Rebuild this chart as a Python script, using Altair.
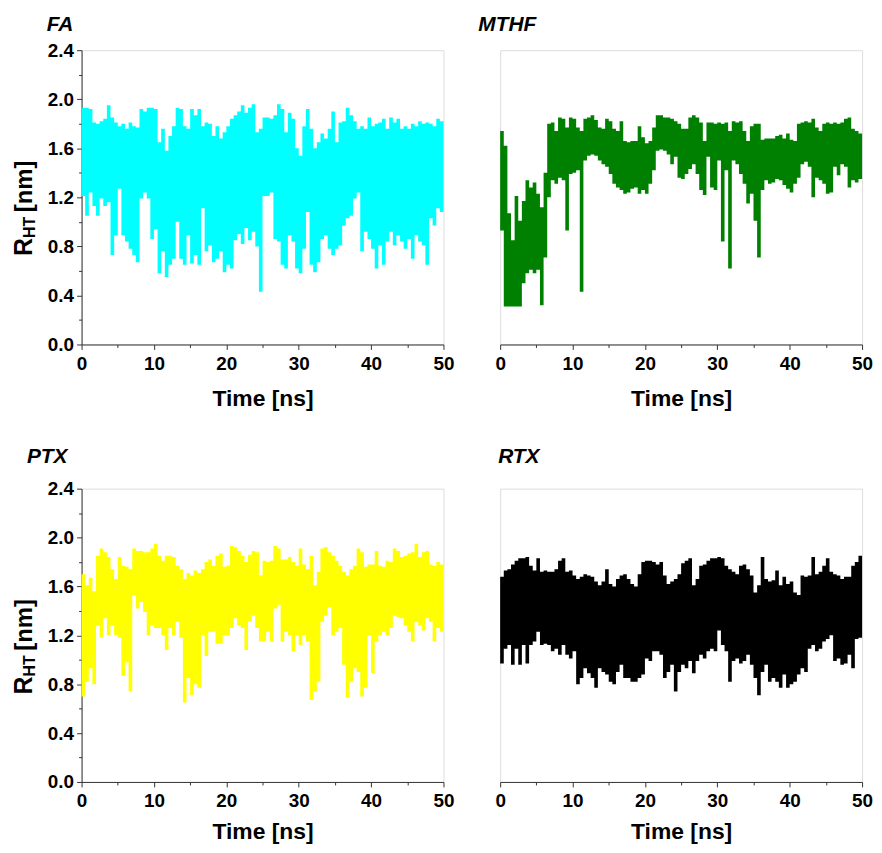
import altair as alt
import pandas as pd

FONT = "Liberation Sans"

# Upper / lower extent of R_HT (nm) in successive 0.5 ns windows (0..50 ns)
FA_HI = [1.93,1.93,1.92,1.81,1.80,1.82,1.84,1.95,1.85,1.81,
         1.78,1.80,1.76,1.81,1.78,1.77,1.92,1.90,1.93,1.93,
         1.92,1.65,1.76,1.58,1.70,1.78,1.93,1.92,1.78,1.76,
         1.92,1.87,1.92,1.78,1.81,1.80,1.70,1.78,1.68,1.73,
         1.78,1.84,1.87,1.90,1.95,1.89,1.93,1.96,1.73,1.76,
         1.85,1.85,1.84,1.87,1.96,1.92,1.73,1.89,1.84,1.60,
         1.54,1.78,1.92,1.76,1.60,1.65,1.72,1.68,1.76,1.90,
         1.65,1.81,1.82,1.93,1.87,1.82,1.76,1.78,1.76,1.85,
         1.78,1.80,1.81,1.84,1.76,1.85,1.81,1.84,1.76,1.78,
         1.76,1.80,1.78,1.82,1.80,1.81,1.80,1.78,1.84,1.82]
FA_LO = [1.21,1.05,1.24,1.13,1.05,1.19,1.13,1.16,0.73,0.89,
         1.27,0.89,0.84,0.78,0.73,0.67,1.19,1.24,1.19,0.86,
         0.94,0.58,0.76,0.55,0.65,0.70,1.00,0.70,0.65,0.89,
         0.66,0.73,0.65,1.11,0.76,0.81,0.67,0.70,0.76,0.59,
         0.65,0.62,0.85,0.90,0.82,0.95,0.85,0.92,0.80,0.43,
         1.21,1.21,1.24,0.86,0.84,0.65,0.62,0.89,0.84,0.62,
         0.58,0.78,1.08,0.65,0.59,0.67,0.86,0.89,0.78,0.73,
         0.78,0.81,0.97,1.03,1.05,1.19,1.24,0.76,0.92,0.86,
         0.78,0.62,0.81,0.65,0.84,0.92,0.81,0.89,0.84,0.78,
         0.86,0.70,0.89,0.84,0.81,0.65,1.03,0.97,1.11,1.08]

MTHF_HI = [1.74,1.62,1.07,0.85,1.21,1.01,1.17,1.34,1.28,1.32,
           1.23,1.12,1.40,1.80,1.81,1.74,1.85,1.84,1.77,1.85,
           1.84,1.77,1.74,1.84,1.85,1.87,1.83,1.77,1.76,1.84,
           1.82,1.76,1.74,1.82,1.66,1.65,1.66,1.66,1.78,1.69,
           1.64,1.66,1.77,1.87,1.87,1.85,1.85,1.84,1.82,1.80,
           1.76,1.76,1.85,1.87,1.85,1.81,1.66,1.81,1.81,1.80,
           1.81,1.80,1.81,1.74,1.82,1.81,1.82,1.74,1.66,1.78,
           1.80,1.80,1.67,1.68,1.68,1.68,1.70,1.71,1.68,1.72,
           1.67,1.66,1.80,1.81,1.82,1.81,1.84,1.77,1.74,1.80,
           1.81,1.80,1.81,1.80,1.81,1.84,1.85,1.76,1.74,1.72]
MTHF_LO = [0.93,0.31,0.31,0.31,0.31,0.31,0.50,0.58,0.61,0.58,
           0.61,0.32,0.71,1.20,1.34,1.31,1.36,1.34,0.93,1.39,
           1.40,1.42,0.43,1.50,1.54,1.55,1.54,1.50,1.47,1.45,
           1.39,1.31,1.28,1.26,1.23,1.24,1.27,1.28,1.23,1.26,
           1.23,1.31,1.42,1.58,1.59,1.58,1.55,1.47,1.53,1.36,
           1.35,1.39,1.43,1.47,1.39,1.26,1.22,1.53,1.28,1.26,
           1.50,0.84,1.42,0.62,1.50,1.47,1.39,1.31,1.15,1.23,
           1.01,0.71,1.26,1.34,1.31,1.32,1.35,1.34,1.30,1.27,
           1.24,1.31,1.36,1.47,1.49,1.45,1.20,1.36,1.34,1.31,
           1.23,1.24,1.45,1.38,1.47,1.45,1.28,1.34,1.32,1.35]

PTX_HI = [1.70,1.61,1.67,1.56,1.85,1.91,1.88,1.84,1.74,1.66,
          1.84,1.77,1.76,1.74,1.91,1.89,1.89,1.88,1.88,1.91,
          1.95,1.85,1.81,1.85,1.85,1.84,1.77,1.74,1.66,1.71,
          1.69,1.73,1.71,1.74,1.80,1.82,1.77,1.85,1.87,1.76,
          1.77,1.93,1.92,1.89,1.85,1.80,1.86,1.89,1.88,1.69,
          1.81,1.80,1.81,1.93,1.91,1.82,1.82,1.84,1.80,1.77,
          1.91,1.78,1.74,1.85,1.61,1.72,1.91,1.92,1.88,1.85,
          1.81,1.77,1.72,1.69,1.74,1.77,1.91,1.88,1.76,1.78,
          1.78,1.89,1.77,1.76,1.81,1.80,1.91,1.89,1.84,1.85,
          1.87,1.88,1.95,1.84,1.88,1.89,1.78,1.77,1.80,1.78]
PTX_LO = [0.70,0.82,0.93,0.80,1.28,1.18,1.34,1.20,1.28,1.20,
          1.18,0.87,0.98,0.74,1.53,1.42,1.47,1.39,1.20,1.28,
          1.26,1.26,1.20,1.08,1.26,1.20,1.31,1.18,0.65,0.85,
          0.71,0.80,0.77,1.20,1.03,1.23,1.23,1.13,1.13,1.20,
          1.20,1.26,1.34,1.28,1.26,1.08,1.31,1.36,1.26,1.15,
          1.15,1.23,1.15,1.42,1.45,1.15,1.23,1.20,1.07,1.20,
          1.12,1.20,1.15,0.67,0.74,0.82,1.31,1.36,1.43,1.20,
          1.23,1.26,0.96,0.69,0.82,0.93,0.90,0.70,0.77,1.20,
          0.89,1.15,1.20,1.23,1.20,1.26,1.36,1.35,1.34,1.28,
          1.23,1.15,1.31,1.28,1.24,1.34,1.31,1.15,1.26,1.23]

RTX_HI = [1.68,1.73,1.74,1.78,1.81,1.83,1.83,1.84,1.77,1.73,
          1.83,1.72,1.73,1.72,1.72,1.74,1.81,1.83,1.72,1.73,
          1.69,1.66,1.68,1.70,1.69,1.68,1.64,1.61,1.64,1.74,
          1.62,1.60,1.66,1.69,1.70,1.66,1.62,1.60,1.70,1.80,
          1.81,1.81,1.80,1.78,1.80,1.69,1.62,1.64,1.66,1.70,
          1.79,1.81,1.83,1.61,1.66,1.77,1.78,1.81,1.83,1.83,
          1.84,1.83,1.77,1.74,1.72,1.70,1.77,1.78,1.74,1.69,
          1.55,1.61,1.84,1.66,1.64,1.65,1.73,1.61,1.68,1.62,
          1.64,1.55,1.53,1.69,1.68,1.69,1.84,1.70,1.72,1.77,
          1.83,1.72,1.70,1.69,1.66,1.68,1.68,1.77,1.80,1.85]
RTX_LO = [0.97,1.09,1.12,0.96,1.09,0.96,1.12,0.97,1.12,1.15,
          1.23,1.12,1.13,1.12,1.07,1.09,1.04,1.12,1.04,1.01,
          1.07,0.80,0.85,0.93,0.89,0.85,0.77,0.93,0.90,0.88,
          0.82,0.80,0.90,0.96,0.85,0.85,0.82,0.82,0.85,0.88,
          1.01,0.99,1.07,1.07,1.04,0.85,0.90,0.96,0.74,0.90,
          0.96,0.93,0.99,0.89,0.99,1.04,1.01,1.07,1.09,1.07,
          1.24,1.12,1.07,0.82,0.99,1.01,0.97,0.99,1.04,0.96,
          0.85,0.71,0.90,0.96,0.82,0.85,0.82,0.77,0.88,0.77,
          0.80,0.82,0.88,0.93,0.90,1.09,1.12,1.07,1.09,1.15,
          1.17,1.20,0.99,1.01,0.96,0.97,1.04,0.93,1.17,1.18]

NAMES = ["FA", "MTHF", "PTX", "RTX"]
COLORS = ["#00FFFF", "#008000", "#FFFF00", "#000000"]
WINDOW = 0.5   # ns per window
T_MAX = 50
Y_TICKS = [0.0, 0.2, 0.4, 0.6, 0.8, 1.0, 1.2, 1.4, 1.6, 1.8, 2.0, 2.2, 2.4]
X_TICKS = [0, 5, 10, 15, 20, 25, 30, 35, 40, 45, 50]


def make_df(hi, lo):
    t = [i * WINDOW for i in range(len(hi))] + [T_MAX]
    return pd.DataFrame({"t": t, "hi": list(hi) + [hi[-1]], "lo": list(lo) + [lo[-1]]})


def x_axis(title_pad):
    return alt.Axis(
        values=X_TICKS,
        labelExpr="datum.value % 10 == 0 ? datum.label : ''",
        tickSize={"condition": {"test": "datum.value % 10 != 0", "value": 3}, "value": 5},
        title="Time [ns]", titleFont=FONT, titleFontSize=23, titleFontWeight="bold",
        titleColor="black", titlePadding=title_pad,
        labelFont=FONT, labelFontSize=19, labelFontWeight="bold", labelColor="black",
        labelPadding=5, labelFlush=False, labelOverlap=False,
        grid=False, domainColor="#333333", tickColor="#333333",
    )


y_axis = alt.Axis(
    values=Y_TICKS,
    labelExpr="round(datum.value*10) % 4 == 0 ? format(datum.value, '.1f') : ''",
    tickSize={"condition": {"test": "round(datum.value*10) % 4 != 0", "value": 3}, "value": 5},
    title=None,
    labelFont=FONT, labelFontSize=19, labelFontWeight="bold", labelColor="black",
    labelPadding=3, labelFlush=False, labelOverlap=False,
    grid=False, domainColor="#333333", tickColor="#333333",
)

TITLE_X = [-35, -22, -55, -2]
TITLE_Y = [-19, -19, -26, -26]
X_TITLE_PAD = [14, 14, 10, 10]
HEIGHTS = [296, 296, 295, 295]
HI = [FA_HI, MTHF_HI, PTX_HI, RTX_HI]
LO = [FA_LO, MTHF_LO, PTX_LO, RTX_LO]

one = pd.DataFrame({"k": [0]})


def ytitle_layers():
    common = dict(angle=270, align="left", baseline="alphabetic", font=FONT,
                  fontWeight="bold", color="black")
    r = alt.Chart(one).mark_text(text="R", fontSize=25, **common).encode(
        x=alt.value(-50), y=alt.value(207))
    sub = alt.Chart(one).mark_text(text="HT", fontSize=16, **common).encode(
        x=alt.value(-47), y=alt.value(189))
    nm = alt.Chart(one).mark_text(text="[nm]", fontSize=24, **common).encode(
        x=alt.value(-50), y=alt.value(163))
    return [r, sub, nm]


panels = []
for i, name in enumerate(NAMES):
    left = i % 2 == 0
    df = make_df(HI[i], LO[i])
    band = alt.Chart(df).mark_area(color=COLORS[i], interpolate="step-after", opacity=1).encode(
        x=alt.X("t:Q", scale=alt.Scale(domain=[0, T_MAX], nice=False, zero=False),
                axis=x_axis(X_TITLE_PAD[i])),
        y=alt.Y("hi:Q", scale=alt.Scale(domain=[0, 2.4], nice=False),
                axis=y_axis if left else None),
        y2="lo:Q",
    )
    label = alt.Chart(one).mark_text(
        text=name, align="left", baseline="alphabetic", font=FONT, fontSize=21,
        fontWeight="bold", fontStyle="italic", color="black",
    ).encode(x=alt.value(TITLE_X[i]), y=alt.value(TITLE_Y[i]))
    layers = [band, label] + (ytitle_layers() if left else [])
    panels.append(alt.layer(*layers).properties(width=364, height=HEIGHTS[i]))

chart = alt.concat(*panels, columns=2, spacing={"row": 145, "column": 57}, bounds="flush").properties(
    padding={"left": 3, "top": 3, "right": 0, "bottom": 0}
).configure_view(stroke=None).configure(background="white")

chart.save("out.html", embed_options={"renderer": "svg", "actions": False})
